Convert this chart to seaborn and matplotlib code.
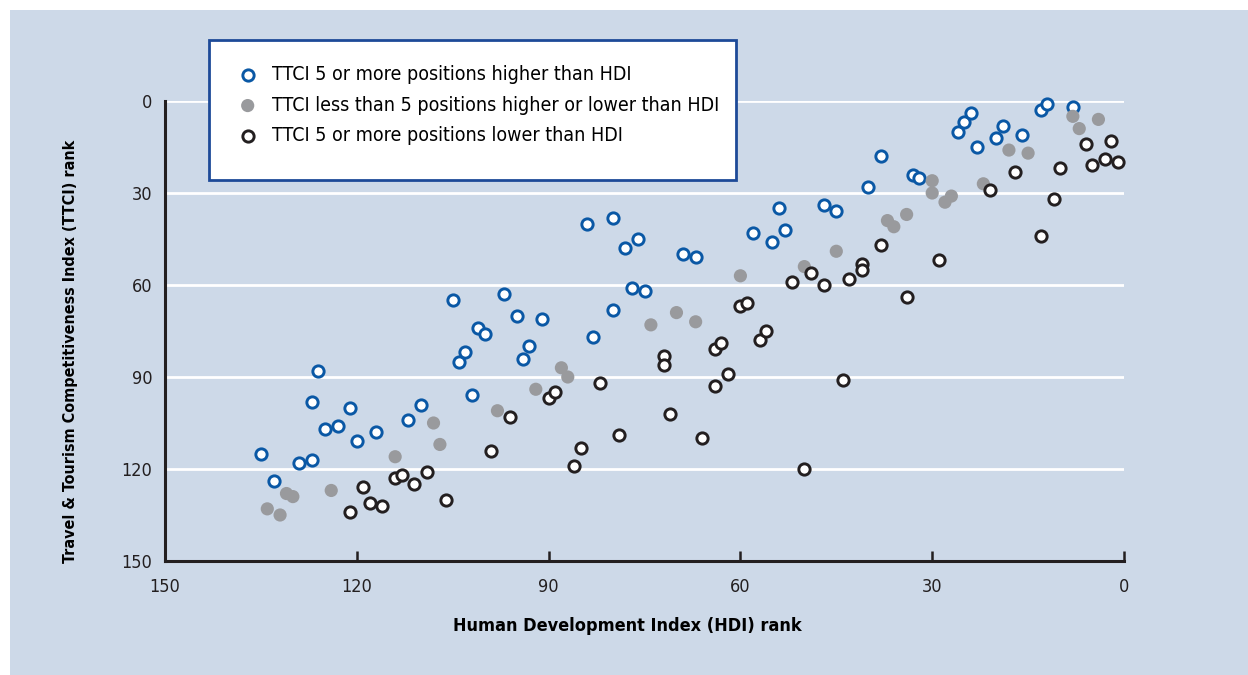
import pandas as pd
import numpy as np
import seaborn as sns
import matplotlib.pyplot as plt
from matplotlib.patches import Rectangle

# HDI rank, TTCI rank for each group
higher_hdi = [135, 133, 129, 127, 127, 126, 125, 123, 121, 120, 117, 112, 110, 105, 104, 103, 102, 101,
              100, 97, 95, 94, 93, 91, 84, 80, 83, 80, 78, 77, 75, 76, 69, 67, 58, 55, 54, 53, 47, 45,
              40, 38, 33, 32, 26, 25, 24, 23, 20, 19, 16, 13, 12, 8]
higher_ttci = [115, 124, 118, 117, 98, 88, 107, 106, 100, 111, 108, 104, 99, 65, 85, 82, 96, 74,
               76, 63, 70, 84, 80, 71, 40, 38, 77, 68, 48, 61, 62, 45, 50, 51, 43, 46, 35, 42, 34, 36,
               28, 18, 24, 25, 10, 7, 4, 15, 12, 8, 11, 3, 1, 2]

similar_hdi = [134, 132, 131, 130, 124, 114, 108, 107, 98, 92, 88, 87, 74, 70, 67, 60, 50, 45, 37, 36,
               34, 30, 30, 28, 27, 22, 18, 15, 8, 7, 4]
similar_ttci = [133, 135, 128, 129, 127, 116, 105, 112, 101, 94, 87, 90, 73, 69, 72, 57, 54, 49, 39, 41,
                37, 26, 30, 33, 31, 27, 16, 17, 5, 9, 6]

lower_hdi = [121, 119, 118, 116, 114, 113, 111, 109, 106, 96, 99, 90, 89, 82, 85, 79, 86, 71, 66, 72,
             72, 64, 63, 64, 62, 60, 59, 52, 57, 56, 49, 47, 43, 41, 41, 38, 29, 34, 44, 50,
             21, 17, 13, 11, 10, 6, 5, 3, 2, 1]
lower_ttci = [134, 126, 131, 132, 123, 122, 125, 121, 130, 103, 114, 97, 95, 92, 113, 109, 119, 102, 110, 83,
              86, 81, 79, 93, 89, 67, 66, 59, 78, 75, 56, 60, 58, 53, 55, 47, 52, 64, 91, 120,
              29, 23, 44, 32, 22, 14, 21, 19, 13, 20]

labels = ["TTCI 5 or more positions higher than HDI",
          "TTCI less than 5 positions higher or lower than HDI",
          "TTCI 5 or more positions lower than HDI"]
ticks = [0, 30, 60, 90, 120, 150]

df = pd.concat([
    pd.DataFrame({'hdi': higher_hdi, 'ttci': higher_ttci, 'group': labels[0]}),
    pd.DataFrame({'hdi': similar_hdi, 'ttci': similar_ttci, 'group': labels[1]}),
    pd.DataFrame({'hdi': lower_hdi, 'ttci': lower_ttci, 'group': labels[2]}),
])

bg = '#cdd9e8'
blue = '#0a58a5'
grey = '#999a9d'
dark = '#231f20'

plt.rcParams['font.family'] = ['DejaVu Sans']
plt.rcParams['font.stretch'] = 'condensed'

fig = plt.figure(figsize=(12.48, 6.75), dpi=100)
fig.patches.append(Rectangle((10 / 1248, 0), 1, 1 - 10 / 675, transform=fig.transFigure,
                             facecolor=bg, edgecolor='none', zorder=-1))
ax = fig.add_axes([165 / 1248, 1 - 561 / 675, 959 / 1248, 460 / 675])
ax.set_facecolor('none')

sns.scatterplot(data=df[df.group == labels[0]], x='hdi', y='ttci', ax=ax, s=66, color='white',
                edgecolor=blue, linewidth=2.1, label=labels[0], clip_on=False, zorder=3)
sns.scatterplot(data=df[df.group == labels[1]], x='hdi', y='ttci', ax=ax, s=90, color=grey,
                edgecolor='none', linewidth=0, label=labels[1], clip_on=False, zorder=3)
sns.scatterplot(data=df[df.group == labels[2]], x='hdi', y='ttci', ax=ax, s=66, color='white',
                edgecolor=dark, linewidth=2.1, label=labels[2], clip_on=False, zorder=3)

ax.set_xlim(150, 0)
ax.set_ylim(150, 0)
ax.set_xticks(ticks)
ax.set_yticks(ticks)
ax.yaxis.grid(True, color='white', linewidth=2)
ax.xaxis.grid(False)
ax.set_axisbelow(True)
for side in ['top', 'right']:
    ax.spines[side].set_visible(False)
for side in ['left', 'bottom']:
    ax.spines[side].set_color(dark)
    ax.spines[side].set_linewidth(2.2)
ax.tick_params(axis='x', direction='in', length=7, width=1.8, color=dark, labelcolor=dark,
               labelsize=13, pad=12)
ax.tick_params(axis='y', length=0, labelcolor=dark, labelsize=13, pad=9)

ax.set_xlabel("Human Development Index (HDI) rank", fontsize=13, fontweight='bold', color='black')
ax.set_ylabel("Travel & Tourism Competitiveness Index (TTCI) rank", fontsize=11.5, fontweight='bold',
              color='black')
ax.xaxis.set_label_coords(0.4818, -0.121)
ax.yaxis.set_label_coords(-0.091, 0.4565)

ax.add_patch(Rectangle((209 / 1248, 1 - 180 / 675), 527 / 1248, 140 / 675, transform=fig.transFigure,
                       facecolor='white', edgecolor='#1d4a98', linewidth=2, clip_on=False, zorder=4))
leg = ax.legend(loc='upper left', bbox_to_anchor=(237 / 1248, 1 - 65 / 675), bbox_transform=fig.transFigure,
                frameon=False, fontsize=14, borderpad=0, borderaxespad=0, handlelength=1.1,
                handletextpad=0.7, labelspacing=0.6, labelcolor='black')
leg.set_zorder(5)

fig.savefig('out.png', dpi=100, facecolor='white')
